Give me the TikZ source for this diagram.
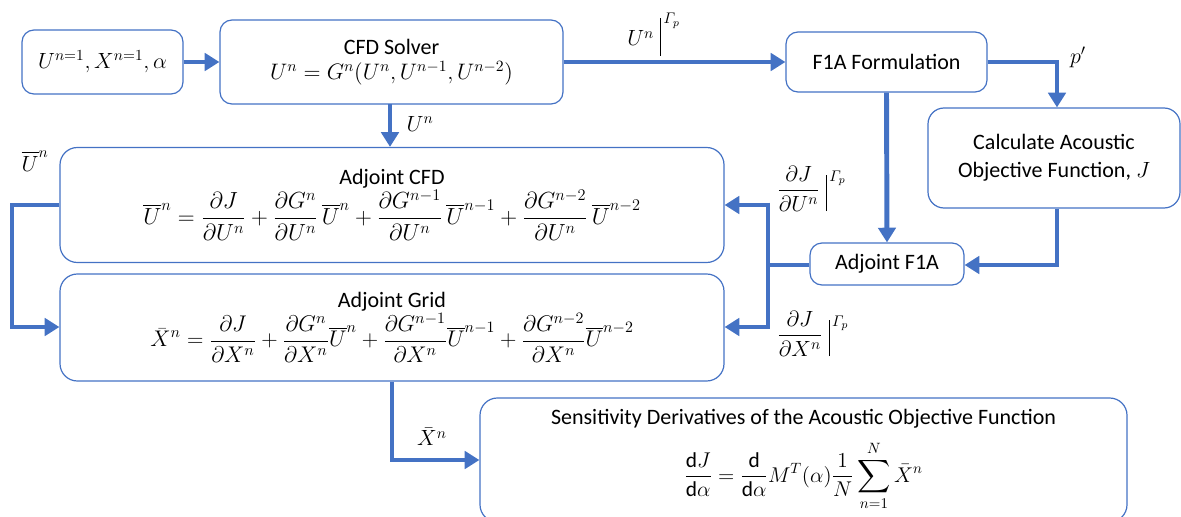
\RequirePackage{fix-cm}
\documentclass[tikz,border=0pt]{standalone}
\usepackage{amsmath}
\usepackage{fontspec}
\setmainfont{Carlito}
\usetikzlibrary{arrows.meta}
\definecolor{flow}{HTML}{4472C4}
\newcommand{\fs}[1]{\fontsize{#1}{#1}\selectfont}
\newcommand{\gbar}{\rule[-11.4pt]{0.7pt}{27pt}}
\tikzset{
  box/.style={draw=flow, line width=0.9pt, rounded corners=9pt, align=center, inner sep=0pt, font=\fontsize{16.5}{19}\selectfont},
  conn/.style={draw=flow, line width=3.7pt},
  arr/.style={conn, -{Triangle[length=11pt,width=13pt]}},
  lbl/.style={inner sep=0pt, font=\fontsize{16.5}{19}\selectfont},
}
\begin{document}
\begin{tikzpicture}[x=0.75pt,y=-0.75pt]
\useasboundingbox (0,0) rectangle (1181,517);
\node[box, minimum width=161*0.75pt, minimum height=64*0.75pt] (init) at (102.5,62) {$U^{n=1},X^{n=1},\alpha$};
\node[box, minimum width=343*0.75pt, minimum height=84*0.75pt] (cfd) at (391.5,62) {CFD Solver\\[0pt] {\fs{16.8}$U^n=G^n(U^n,U^{n-1},U^{n-2})$}};
\node[box, minimum width=201*0.75pt, minimum height=60*0.75pt] (f1a) at (886.5,62) {F1A Formulation};
\node[box, rounded corners=12pt, minimum width=252*0.75pt, minimum height=100*0.75pt] (calc) at (1054,158) {Calculate Acoustic\\[2pt] Objective Function, $J$};
\node[box, minimum width=154*0.75pt, minimum height=42*0.75pt] (adjf1a) at (887,264) {Adjoint F1A};
\node[box, rounded corners=13pt, minimum width=664*0.75pt, minimum height=115*0.75pt] (adjcfd) at (392,205) {Adjoint CFD\\[0pt]
 {\fs{17.5}$\displaystyle \overline{U}^n=\frac{\partial J}{\partial U^n}+\frac{\partial G^n}{\partial U^n}\,\overline{U}^n+\frac{\partial G^{n-1}}{\partial U^n}\,\overline{U}^{n-1}+\frac{\partial G^{n-2}}{\partial U^n}\,\overline{U}^{n-2}$}};
\node[box, rounded corners=13pt, minimum width=664*0.75pt, minimum height=107*0.75pt] (adjgrid) at (392,327.5) {Adjoint Grid\\[0pt]
 {\fs{17}$\displaystyle \bar{X}^n=\frac{\partial J}{\partial X^n}+\frac{\partial G^n}{\partial X^n}\overline{U}^n+\frac{\partial G^{n-1}}{\partial X^n}\overline{U}^{n-1}+\frac{\partial G^{n-2}}{\partial X^n}\overline{U}^{n-2}$}};
\node[box, rounded corners=13pt, minimum width=647*0.75pt, minimum height=124*0.75pt] (sens) at (803.5,460) {Sensitivity Derivatives of the Acoustic Objective Function\\[9pt]
 {\fs{16}$\displaystyle \frac{\mathrm{d}J}{\mathrm{d}\alpha}=\frac{\mathrm{d}}{\mathrm{d}\alpha}M^T(\alpha)\frac{1}{N}\sum_{n=1}^{N}\bar{X}^n$}};
% connectors
\draw[arr] (init) -- (cfd);
\draw[arr] (cfd) -- (f1a);
\coordinate (c1) at (1057,62);
\draw[arr] (f1a.east) -- (c1) -- (c1 |- calc.north);
\coordinate (c0) at (390,104);
\draw[arr] (c0) -- (c0 |- adjcfd.north);
\draw[arr] (f1a.south) -- (adjf1a.north);
\coordinate (c2) at (1057,265);
\draw[arr] (calc.south -| c2) -- (c2) -- (adjf1a.east |- c2);
\coordinate (jn) at (768,265);
\coordinate (jt) at (768,205);
\coordinate (jb) at (768,327);
\draw[conn] (adjf1a.west |- jn) -- (jn);
\draw[arr] (jt) -- (adjcfd.east |- jt);
\draw[arr] (jb) -- (adjgrid.east |- jb);
\draw[conn] ([yshift=1.8pt]jt) -- ([yshift=-1.8pt]jb);
\coordinate (c3) at (12,205);
\coordinate (c4) at (12,327);
\draw[arr] (adjcfd.west |- c3) -- (c3) -- (c4) -- (adjgrid.west |- c4);
\coordinate (c5) at (392,460);
\draw[arr] (adjgrid.south -| c5) -- (c5) -- (sens.west |- c5);
% labels
\node[lbl, anchor=base west] (l1) at (627,46) {$U^n\;\rule[-7.5pt]{0.7pt}{28.5pt}^{\,\varGamma_p}$};
\node[lbl] (l2) at (1078,57) {$p'$};
\node[lbl] (l3) at (420,124) {$U^n$};
\node[lbl] (l4) at (35,161) {$\overline{U}^n$};
\node[lbl, anchor=base west] (l5) at (777,196) {$\displaystyle\frac{\partial J}{\partial U^n}\;\gbar^{\,\varGamma_p}$};
\node[lbl, anchor=base west] (l6) at (777,341) {$\displaystyle\frac{\partial J}{\partial X^n}\;\gbar^{\,\varGamma_p}$};
\node[lbl] (l7) at (432,437) {$\bar{X}^n$};
\end{tikzpicture}
\end{document}
